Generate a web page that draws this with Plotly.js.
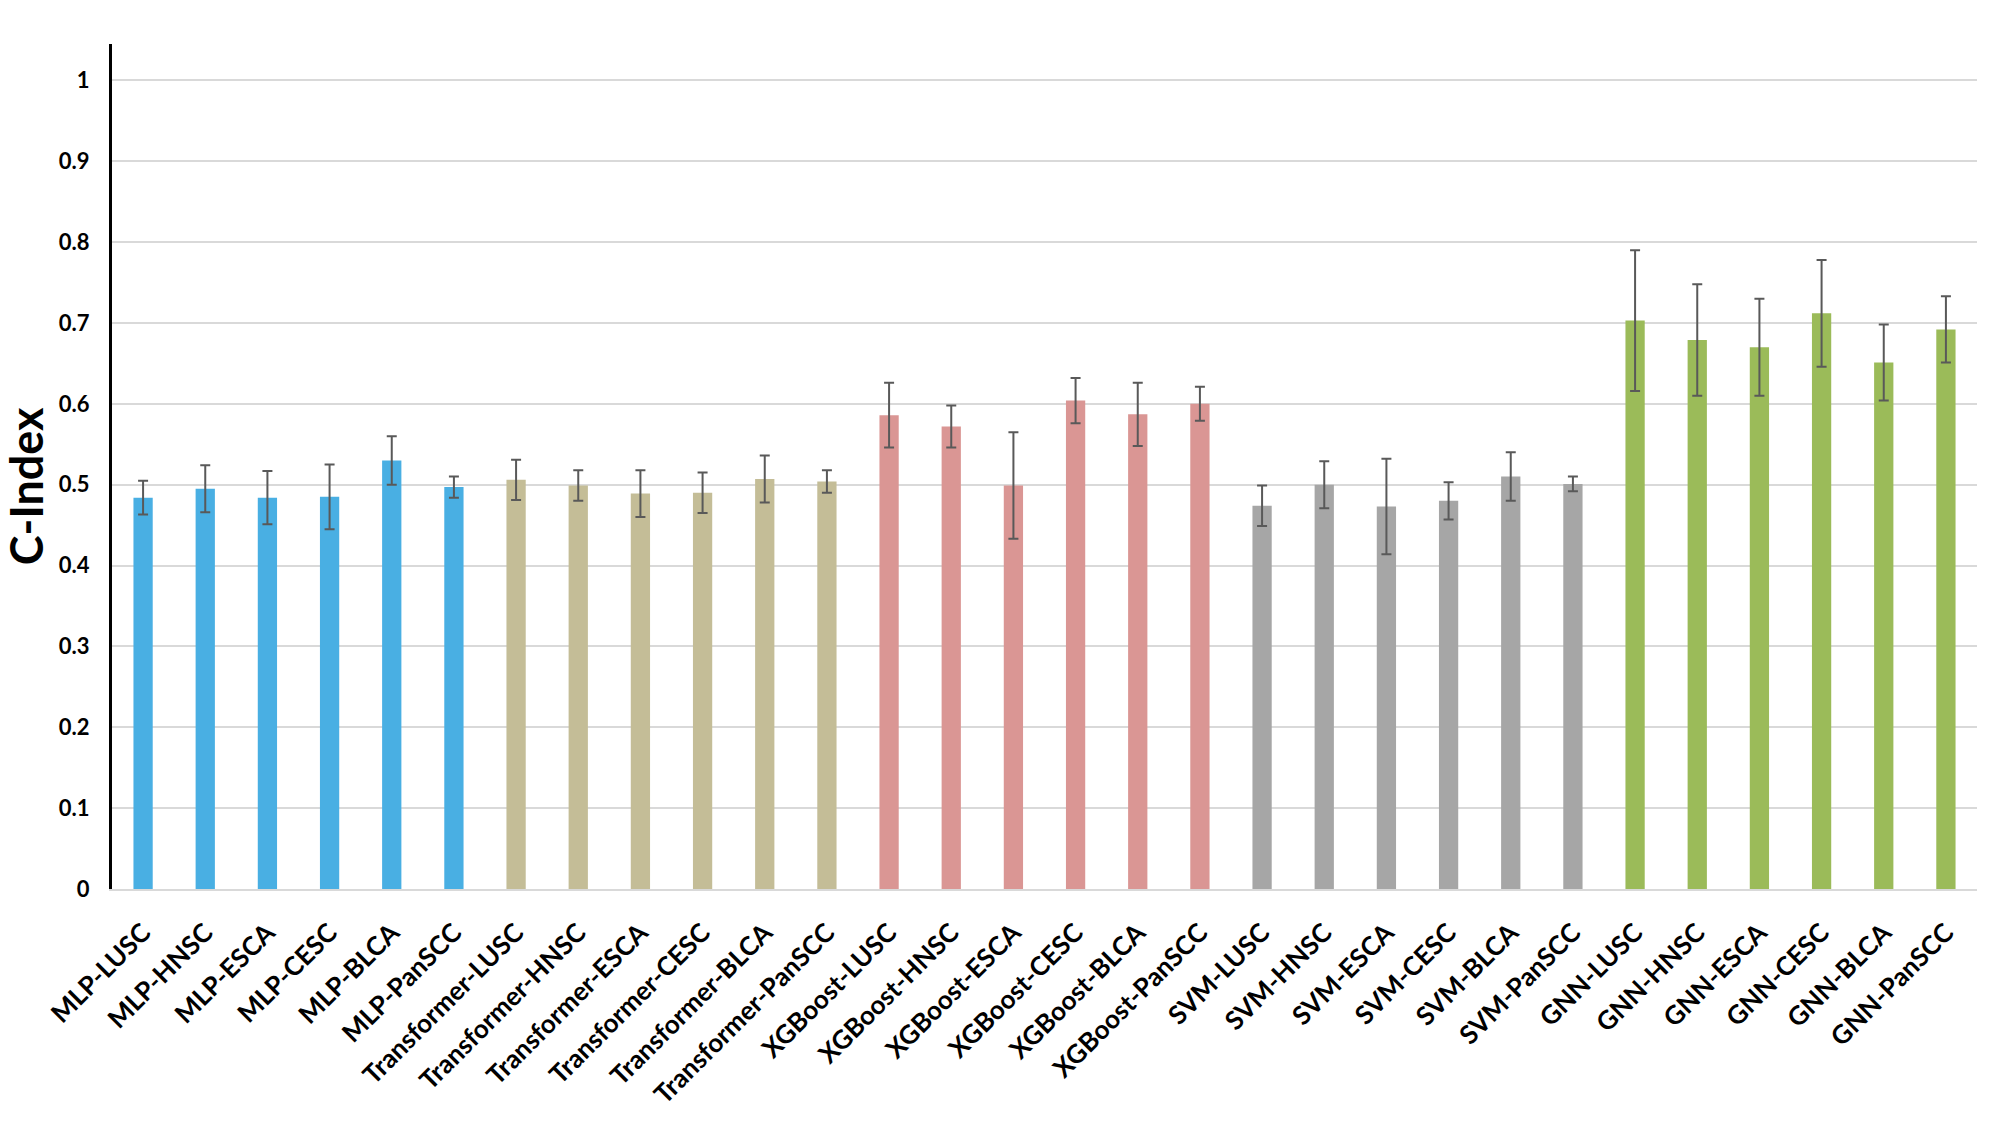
<!DOCTYPE html>
<html>
<head>
<meta charset="utf-8">
<script src="https://cdn.plot.ly/plotly-3.0.1.min.js"></script>
<style>
  html, body { margin: 0; padding: 0; background: #ffffff; }
  #chart { width: 1999px; height: 1124px; }
</style>
</head>
<body>
<div id="chart"></div>
<script>
const categories = [
  'MLP-LUSC', 'MLP-HNSC', 'MLP-ESCA', 'MLP-CESC', 'MLP-BLCA', 'MLP-PanSCC',
  'Transformer-LUSC', 'Transformer-HNSC', 'Transformer-ESCA', 'Transformer-CESC', 'Transformer-BLCA', 'Transformer-PanSCC',
  'XGBoost-LUSC', 'XGBoost-HNSC', 'XGBoost-ESCA', 'XGBoost-CESC', 'XGBoost-BLCA', 'XGBoost-PanSCC',
  'SVM-LUSC', 'SVM-HNSC', 'SVM-ESCA', 'SVM-CESC', 'SVM-BLCA', 'SVM-PanSCC',
  'GNN-LUSC', 'GNN-HNSC', 'GNN-ESCA', 'GNN-CESC', 'GNN-BLCA', 'GNN-PanSCC'
];

const mlpValues         = [0.484, 0.495, 0.484, 0.485, 0.530, 0.497];
const transformerValues = [0.506, 0.499, 0.489, 0.490, 0.507, 0.504];
const xgboostValues     = [0.586, 0.572, 0.499, 0.604, 0.587, 0.600];
const svmValues         = [0.474, 0.500, 0.473, 0.480, 0.510, 0.501];
const gnnValues         = [0.703, 0.679, 0.670, 0.712, 0.651, 0.692];

const mlpErrors         = [0.021, 0.029, 0.033, 0.040, 0.030, 0.013];
const transformerErrors = [0.025, 0.019, 0.029, 0.025, 0.029, 0.014];
const xgboostErrors     = [0.040, 0.026, 0.066, 0.028, 0.039, 0.021];
const svmErrors         = [0.025, 0.029, 0.059, 0.023, 0.030, 0.009];
const gnnErrors         = [0.087, 0.069, 0.060, 0.066, 0.047, 0.041];

const groupColors = ['#49AFE3', '#C4BD97', '#DA9694', '#A6A6A6', '#9BBB59'];

const yTickValues = [0, 0.1, 0.2, 0.3, 0.4, 0.5, 0.6, 0.7, 0.8, 0.9, 1];
const yTickLabels = ['0', '0.1', '0.2', '0.3', '0.4', '0.5', '0.6', '0.7', '0.8', '0.9', '1'];
const yAxisTitle = 'C-Index';

const valueGroups = [mlpValues, transformerValues, xgboostValues, svmValues, gnnValues];
const errorGroups = [mlpErrors, transformerErrors, xgboostErrors, svmErrors, gnnErrors];

const values = [].concat(...valueGroups);
const errors = [].concat(...errorGroups);
const colors = [].concat(...valueGroups.map((g, i) => g.map(() => groupColors[i])));

const trace = {
  type: 'bar',
  x: categories,
  y: values,
  marker: { color: colors, line: { width: 0 } },
  error_y: {
    type: 'data',
    array: errors,
    visible: true,
    color: '#595959',
    thickness: 2,
    width: 5
  },
  hoverinfo: 'x+y'
};

const layout = {
  width: 1999,
  height: 1124,
  paper_bgcolor: '#ffffff',
  plot_bgcolor: '#ffffff',
  margin: { l: 112, r: 22, t: 44, b: 235 },
  bargap: 0.69,
  showlegend: false,
  font: { family: 'Lato, "DejaVu Sans", sans-serif', color: '#000000' },
  xaxis: {
    type: 'category',
    range: [-0.5, 29.5],
    tickangle: -45,
    tickfont: { family: 'Lato, sans-serif', size: 26, weight: 'bold', color: '#000000' },
    showline: true,
    linecolor: '#D9D9D9',
    linewidth: 2,
    showgrid: false,
    ticks: '',
    ticklabelstandoff: 16,
    fixedrange: true
  },
  yaxis: {
    range: [0, 1.045],
    tickvals: yTickValues,
    ticktext: yTickLabels,
    tickfont: { family: 'Lato, sans-serif', size: 22, weight: 'bold', color: '#000000' },
    showgrid: true,
    gridcolor: '#D9D9D9',
    gridwidth: 2,
    zeroline: false,
    showline: true,
    linecolor: '#000000',
    linewidth: 3,
    ticks: '',
    ticklabelstandoff: 15,
    fixedrange: true
  },
  annotations: [{
    text: yAxisTitle,
    xref: 'paper', yref: 'paper',
    x: -0.046, y: 0.477,
    xanchor: 'center', yanchor: 'middle',
    textangle: -90,
    showarrow: false,
    font: { family: 'Lato, sans-serif', size: 45, weight: 'bold', color: '#000000' }
  }]
};

Plotly.newPlot('chart', [trace], layout, { displayModeBar: false, staticPlot: true });
</script>
</body>
</html>
